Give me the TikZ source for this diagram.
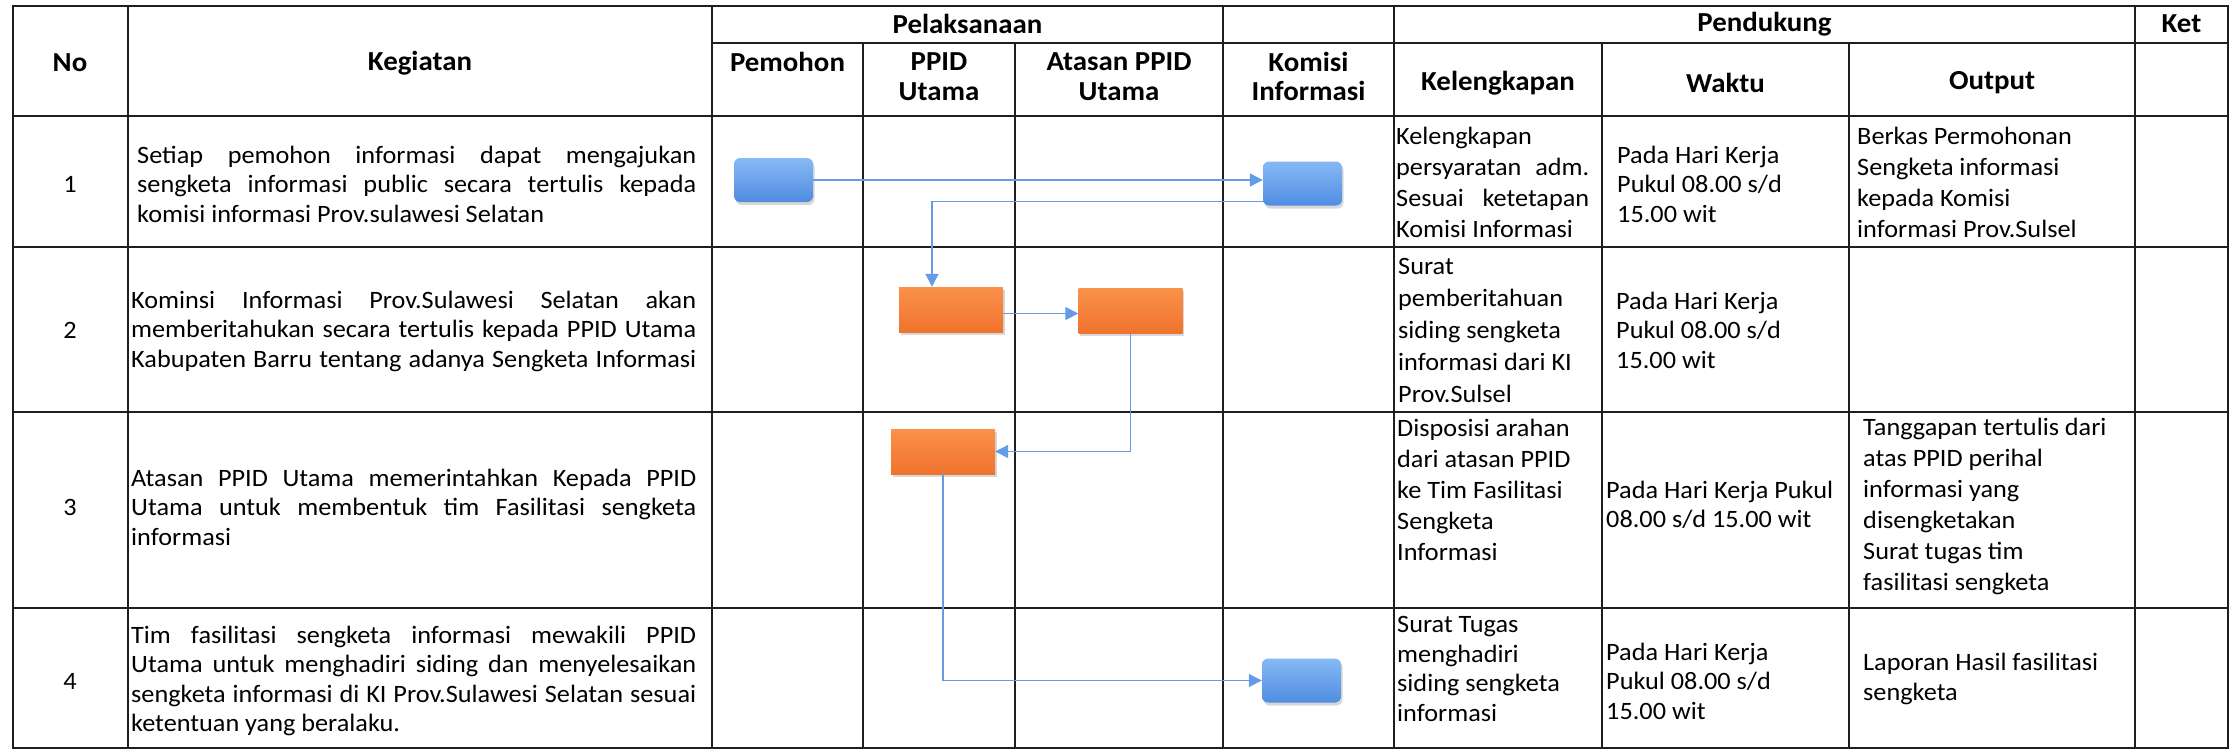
\documentclass[tikz,border=0pt]{standalone}
\usepackage{fontspec}
\setmainfont{Carlito}[FakeStretch=1.05]
\usetikzlibrary{arrows.meta,shadows,calc}

\definecolor{gridc}{RGB}{30,30,30}
\definecolor{connc}{RGB}{100,155,230}
\definecolor{bluetop}{RGB}{135,185,245}
\definecolor{bluebot}{RGB}{80,140,225}
\definecolor{orgtop}{RGB}{250,145,75}
\definecolor{orgbot}{RGB}{240,115,45}

\newcommand{\jl}[2]{\makebox[#1][s]{#2}}

\begin{document}
\begin{tikzpicture}[x=1pt,y=-1pt,
  grid/.style={draw=gridc,line width=1.7pt},
  body/.style={font=\fontsize{25}{29.5}\selectfont, inner sep=0pt, align=left, anchor=west, text=black},
  num/.style={font=\fontsize{25}{29.5}\selectfont, inner sep=0pt, text=black},
  hdr/.style={font=\bfseries\fontsize{27.5}{29.5}\selectfont, inner sep=0pt, align=center, text=black},
  bbox/.style={rounded corners=6pt, top color=bluetop, bottom color=bluebot, draw=none,
    minimum width=79pt, minimum height=44pt, inner sep=0pt,
    drop shadow={opacity=0.3, shadow xshift=1.5pt, shadow yshift=-3pt}},
  obox/.style={top color=orgtop, bottom color=orgbot, draw=none,
    minimum width=104pt, minimum height=45pt, inner sep=0pt,
    drop shadow={opacity=0.3, shadow xshift=1.5pt, shadow yshift=-3pt}},
  flow/.style={draw=connc, line width=1.4pt, -{Triangle[length=13pt,width=13pt]}}
]
\fill[white] (0,0) rectangle (2235,753);
\useasboundingbox (0,0) rectangle (2235,753);

% table grid
\draw[grid] (13,6) rectangle (2228,748);
\foreach \x in {128,712,1223,1394,2135} \draw[grid] (\x,6) -- (\x,748);
\foreach \x in {863,1015,1602,1849} \draw[grid] (\x,43) -- (\x,748);
\draw[grid] (712,43) -- (2228,43);
\foreach \y in {116,247,412,608} \draw[grid] (13,\y) -- (2228,\y);

% headers
\node[hdr] (hno) at (70,63) {No};
\node[hdr] (hkeg) at (420,63) {Kegiatan};
\node[hdr] (hpel) at (967.5,24) {Pelaksanaan};
\node[hdr] (hpen) at (1764.5,24) {Pendukung};
\node[hdr] (hket) at (2181.5,24) {Ket};
\node[hdr] (hpem) at (787.5,62) {Pemohon};
\node[hdr] (hppid) at (939,76.5) {PPID\\Utama};
\node[hdr] (hatas) at (1119,76.5) {Atasan PPID\\Utama};
\node[hdr] (hkom) at (1308.5,76.5) {Komisi\\Informasi};
\node[hdr] (hkel) at (1498,83) {Kelengkapan};
\node[hdr] (hwak) at (1725.5,83) {Waktu};
\node[hdr] (hout) at (1992,83) {Output};

% numbers
\node[num] (n1) at (70,184) {1};
\node[num] (n2) at (70,330) {2};
\node[num] (n3) at (70,507) {3};
\node[num] (n4) at (70,681) {4};

% Kegiatan
\node[body] (k1) at (137,184) {\jl{559pt}{Setiap pemohon informasi dapat mengajukan}\\
\jl{559pt}{sengketa informasi public secara tertulis kepada}\\
komisi informasi Prov.sulawesi Selatan};
\node[body] (k2) at (131,331) {\jl{565pt}{Kominsi Informasi Prov.Sulawesi Selatan akan}\\
\jl{565pt}{memberitahukan secara tertulis kepada PPID Utama}\\
\jl{565pt}{Kabupaten Barru tentang adanya Sengketa Informasi}};
\node[body] (k3) at (131,507) {\jl{565pt}{Atasan PPID Utama memerintahkan Kepada PPID}\\
\jl{565pt}{Utama untuk membentuk tim Fasilitasi sengketa}\\
informasi};
\node[body] (k4) at (131,681) {\jl{565pt}{Tim fasilitasi sengketa informasi mewakili PPID}\\
\jl{565pt}{Utama untuk menghadiri siding dan menyelesaikan}\\
\jl{565pt}{sengketa informasi di KI Prov.Sulawesi Selatan sesuai}\\
ketentuan yang beralaku.};

% Kelengkapan
\node[body,font=\fontsize{25}{31}\selectfont] (kl1) at (1396,182) {Kelengkapan\\
\jl{193pt}{persyaratan adm.}\\
\jl{193pt}{Sesuai ketetapan}\\
Komisi Informasi};
\node[body,font=\fontsize{25}{32}\selectfont] (kl2) at (1398,330) {Surat\\ pemberitahuan\\ siding sengketa\\ informasi dari KI\\ Prov.Sulsel};
\node[body,font=\fontsize{25}{31}\selectfont] (kl3) at (1397,490) {Disposisi arahan\\ dari atasan PPID\\ ke Tim Fasilitasi\\ Sengketa\\ Informasi};
\node[body] (kl4) at (1397,669) {Surat Tugas\\ menghadiri\\ siding sengketa\\ informasi};

% Waktu
\node[body] (w1) at (1617,184) {Pada Hari Kerja\\ Pukul 08.00 s/d\\ 15.00 wit};
\node[body] (w2) at (1616,330) {Pada Hari Kerja\\ Pukul 08.00 s/d\\ 15.00 wit};
\node[body] (w3) at (1606,505) {Pada Hari Kerja Pukul\\ 08.00 s/d 15.00 wit};
\node[body] (w4) at (1606,681) {Pada Hari Kerja\\ Pukul 08.00 s/d\\ 15.00 wit};

% Output
\node[body,font=\fontsize{25}{31}\selectfont] (ou1) at (1857,182) {Berkas Permohonan\\ Sengketa informasi\\ kepada Komisi\\ informasi Prov.Sulsel};
\node[body,font=\fontsize{25}{31}\selectfont] (ou3) at (1863,506) {Tanggapan tertulis dari\\ atas PPID perihal\\ informasi yang\\ disengketakan\\ Surat tugas tim\\ fasilitasi sengketa};
\node[body] (ou4) at (1863,679) {Laporan Hasil fasilitasi\\ sengketa};

% flow boxes
\node[bbox] (b1) at (773.5,180) {};
\node[bbox] (b2) at (1302.5,183.5) {};
\node[bbox] (b3) at (1301.5,680.5) {};
\node[obox] (o1) at (951,309.5) {};
\node[obox] (o2) at (1130.5,310.5) {};
\node[obox] (o3) at (943,451.5) {};

% connectors
\draw[flow] (b1.east) -- (b1.east -| b2.west);
\draw[flow] ([yshift=4pt]b2.south west) -| ([xshift=-19pt]o1.north);
\draw[flow] ([yshift=-4pt]o1.east) -- ([yshift=-4pt]o1.east -| o2.west);
\draw[flow] (o2.south) |- (o3.east);
\draw[flow] (o3.south) |- (b3.west);
\end{tikzpicture}
\end{document}
